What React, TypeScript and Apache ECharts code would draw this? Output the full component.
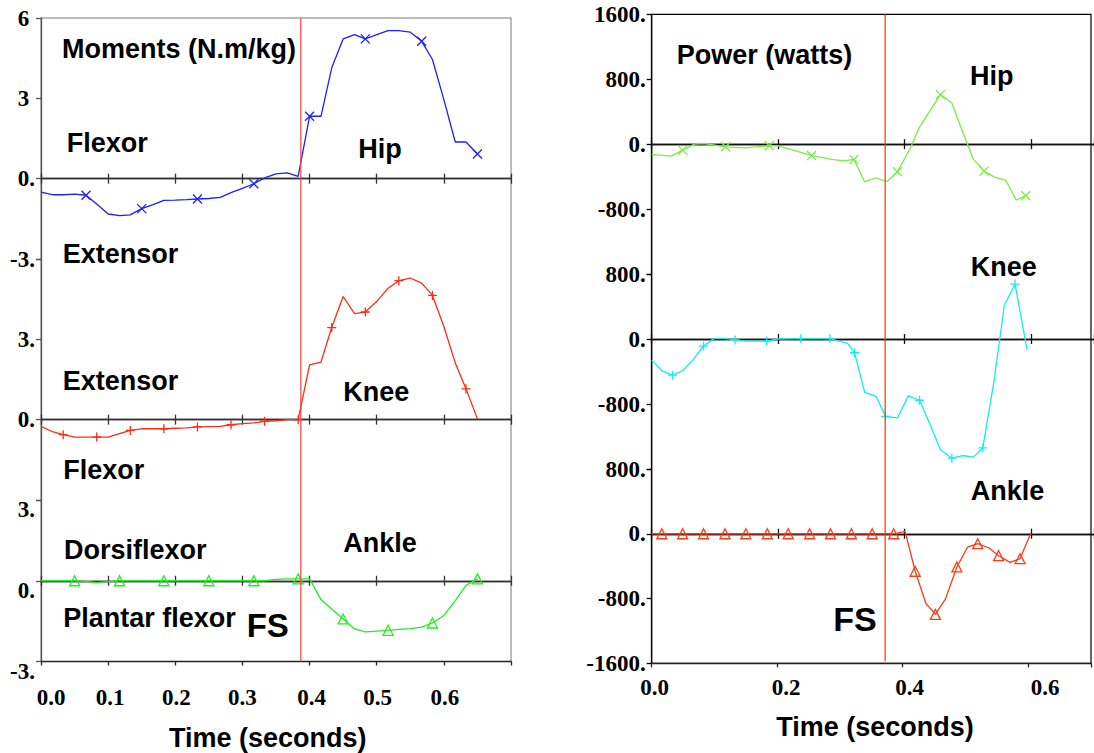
import React, { useEffect, useRef } from 'react';
import * as echarts from 'echarts';

// ---------- data: left panel (moments, N.m/kg) ----------
const LEFT_T = [0.000, 0.017, 0.033, 0.050, 0.067, 0.083, 0.100, 0.117, 0.133, 0.150,
  0.167, 0.183, 0.200, 0.217, 0.233, 0.250, 0.267, 0.283, 0.300, 0.317,
  0.333, 0.350, 0.367, 0.383, 0.400, 0.417, 0.433, 0.450, 0.467, 0.483,
  0.500, 0.517, 0.533, 0.550, 0.567, 0.583, 0.600, 0.617, 0.633, 0.650];
const HIP_MOMENT = [-0.50, -0.60, -0.60, -0.58, -0.62, -0.95, -1.32, -1.38, -1.35, -1.12,
  -0.97, -0.81, -0.80, -0.78, -0.76, -0.74, -0.70, -0.52, -0.36, -0.19,
  0.03, 0.18, 0.22, 0.09, 2.33, 2.33, 4.14, 5.22, 5.38, 5.22,
  5.38, 5.53, 5.53, 5.47, 5.13, 4.45, 2.95, 1.37, 1.37, 0.92];
const HIP_MOMENT_MARKS = [4, 9, 14, 19, 24, 29, 34, 39];
const KNEE_MOMENT = [-0.25, -0.45, -0.56, -0.65, -0.65, -0.65, -0.65, -0.52, -0.40, -0.34,
  -0.34, -0.34, -0.32, -0.31, -0.27, -0.26, -0.25, -0.19, -0.15, -0.12,
  -0.06, -0.04, 0.00, 0.00, 2.05, 2.15, 3.44, 4.60, 3.96, 4.02,
  4.41, 4.91, 5.19, 5.29, 5.10, 4.64, 3.48, 2.12, 1.15, 0.03];
const KNEE_MOMENT_MARKS = [2, 5, 8, 11, 14, 17, 20, 23, 26, 29, 32, 35, 38];
const ANKLE_MOMENT = [0.00, 0.00, 0.00, 0.00, -0.02, -0.07, -0.03, 0.00, 0.00, 0.00,
  0.00, 0.00, 0.00, 0.00, 0.00, 0.00, 0.00, 0.00, 0.00, 0.00,
  0.00, 0.05, 0.07, 0.07, 0.07, -0.70, -1.05, -1.42, -1.79, -1.90,
  -1.87, -1.84, -1.81, -1.78, -1.72, -1.57, -1.29, -0.74, -0.17, 0.07];
const ANKLE_MOMENT_MARKS = [3, 7, 11, 15, 19, 23, 27, 31, 35, 39];
const FS_LEFT = 0.387;

// ---------- data: right panel (power, watts) ----------
const HIP_POWER_T = [0.000, 0.031, 0.049, 0.068, 0.083, 0.117, 0.148, 0.186, 0.200, 0.253,
  0.284, 0.305, 0.320, 0.337, 0.355, 0.372, 0.389, 0.409, 0.424, 0.441,
  0.457, 0.475, 0.492, 0.509, 0.526, 0.543, 0.560, 0.577, 0.592];
const HIP_POWER = [-127, -147, -74, 0, 8, -33, -45, -20, -20, -139,
  -188, -205, -188, -463, -414, -463, -340, -53, 213, 418,
  610, 508, 152, -184, -332, -410, -442, -688, -635];
const HIP_POWER_MARKS = [2, 5, 7, 9, 12, 16, 20, 24, 28];
const KNEE_POWER_T = [0.000, 0.017, 0.033, 0.049, 0.065, 0.082, 0.099, 0.115, 0.132, 0.148,
  0.182, 0.199, 0.236, 0.282, 0.310, 0.321, 0.337, 0.355, 0.370, 0.389,
  0.406, 0.424, 0.440, 0.457, 0.475, 0.492, 0.509, 0.524, 0.542, 0.558,
  0.575, 0.594];
const KNEE_POWER = [-260, -396, -445, -391, -260, -87, 8, 8, -12, -25,
  -25, 0, 4, 4, -54, -169, -655, -705, -952, -972,
  -700, -754, -1042, -1364, -1467, -1434, -1454, -1339, -507, 412,
  676, -128];
const KNEE_POWER_MARKS = [2, 5, 8, 10, 12, 13, 15, 18, 21, 24, 27, 30];
const ANKLE_POWER_T = [0.000, 0.016, 0.049, 0.082, 0.116, 0.149, 0.183, 0.216, 0.250, 0.283,
  0.316, 0.349, 0.383, 0.401, 0.417, 0.434, 0.449, 0.465, 0.483, 0.500,
  0.516, 0.534, 0.549, 0.567, 0.583, 0.600];
const ANKLE_POWER = [0, 0, 0, 0, 0, 0, 0, 0, 0, 0,
  0, 0, 0, 29, -463, -861, -996, -804, -410, -164,
  -123, -176, -271, -353, -308, 10];
const ANKLE_POWER_MARKS = [1, 2, 3, 4, 5, 6, 7, 8, 9, 10, 11, 12, 14, 16, 18, 20, 22, 24];
const FS_RIGHT = 0.372;

// ---------- tick labels ----------
const LEFT_X_LABELS = ['0.0', '0.1', '0.2', '0.3', '0.4', '0.5', '0.6', ''];
const RIGHT_X_LABELS = ['0.0', '0.2', '0.4', '0.6'];
const HIP_M_Y_LABELS = ['-3.', '0.', '3{h|.}', '6{h|.}'];
const KNEE_M_Y_LABELS = ['', '0.', '3.', ''];
const ANKLE_M_Y_LABELS = ['-3.', '0.', '3.'];
const HIP_P_Y_LABELS = ['', '-800.', '0.', '800.', '1600.'];
const KNEE_P_Y_LABELS = ['', '-800.', '0.', '800.'];
const ANKLE_P_Y_LABELS = ['-1600.', '-800.', '0.', '800.'];

// label nudges (style only: horizontal shift of each x label, px)
const LEFT_X_SHIFT = [10, 2, 1, 0, 2, 1, 1, 0];
const RIGHT_X_SHIFT = [3, 9, 7, 17];

const SERIF = 'Liberation Serif, Times New Roman, serif';
const SANS = 'Liberation Sans, Arial, sans-serif';

const SYM_X = 'path://M0,0L10,10M10,0L0,10';
const SYM_PLUS = 'path://M5,0L5,10M0,5L10,5';
const SYM_TRI = 'path://M5,0L10,9L0,9Z';

function pts(t: number[], v: number[], marks: number[], sym: string) {
  return t.map((x, i) => ({ value: [x, v[i]], symbol: marks.includes(i) ? sym : 'none' }));
}

function zeroAxis(grid: number, yIdx: number, max: number, interval: number, pos: string, color: string) {
  return {
    type: 'value', gridIndex: grid, min: 0, max, interval, position: pos,
    axisLine: { show: true, onZero: true, onZeroAxisIndex: yIdx, lineStyle: { color, width: 1.3 } },
    axisTick: { show: true, length: 5, lineStyle: { color, width: 1.3 } },
    axisLabel: { show: false }, splitLine: { show: false },
  };
}

function frameX(grid: number, interval: number, labels: string[], shifts: number[], margin: number) {
  const base = { fontFamily: SERIF, fontWeight: 'bold', fontSize: 23, color: '#000' };
  const rich: any = {};
  shifts.forEach((s, i) => { rich['p' + i] = { ...base, padding: [0, 0, 0, 2 * s] }; });
  return {
    type: 'value', gridIndex: grid, min: 0, max: 0.7, interval, position: 'bottom',
    axisLine: { show: true, onZero: false, lineStyle: { color: '#222', width: 1.3 } },
    axisTick: { show: true, length: 4, lineStyle: { color: '#222', width: 1.3 } },
    axisLabel: {
      formatter: (_v: number, i: number) => (labels[i] ? `{p${i}|${labels[i]}}` : ''),
      ...base, margin, rich,
    },
    splitLine: { show: false },
  };
}

function yAx(grid: number, min: number, max: number, interval: number, labels: string[], color: string, extra: any = {}) {
  const base = { fontFamily: SERIF, fontWeight: 'bold', fontSize: 23, color: '#000' };
  return {
    type: 'value', gridIndex: grid, min, max, interval, position: 'left',
    axisLine: { show: true, onZero: false, lineStyle: { color, width: 1.3 } },
    axisTick: { show: true, length: 5, lineStyle: { color, width: 1.3 } },
    axisLabel: {
      formatter: (_v: number, i: number) => labels[i] ?? '',
      ...base, margin: 6,
      rich: { h: { ...base, color: 'transparent' } },
      ...extra,
    },
    splitLine: { show: false },
  };
}

function curve(xi: number, yi: number, data: any[], color: string, size = 9) {
  return {
    type: 'line', xAxisIndex: xi, yAxisIndex: yi, data, silent: true,
    showSymbol: true, showAllSymbol: true, symbolSize: size, z: 3,
    lineStyle: { color, width: 1.3 },
    itemStyle: { color: 'transparent', borderColor: color, borderWidth: 1.3 },
  };
}

function txt(text: string, x: number, y: number, size: number, align = 'left') {
  return {
    type: 'text', x, y, z: 10, silent: true,
    style: { text, fontFamily: SANS, fontWeight: 'bold', fontSize: size, fill: '#000', align, verticalAlign: 'middle' },
  };
}

export default function App() {
  const ref = useRef<HTMLDivElement>(null);
  useEffect(() => {
    if (!ref.current) return;
    const chart = echarts.init(ref.current, null, { renderer: 'svg' });
    const option: any = {
      animation: false,
      backgroundColor: '#fff',
      grid: [
        { left: 41, top: 18, width: 470, height: 643.5, show: true, borderColor: '#777', borderWidth: 1 },
        { left: 41, top: 18, width: 470, height: 241 },
        { left: 41, top: 259, width: 470, height: 241 },
        { left: 41, top: 500, width: 470, height: 161.5 },
        { left: 651.7, top: 14.3, width: 448, height: 649, show: true, borderColor: '#000', borderWidth: 1.2 },
        { left: 651.7, top: 14.3, width: 448, height: 259.7 },
        { left: 651.7, top: 274, width: 448, height: 195 },
        { left: 651.7, top: 469, width: 448, height: 194.3 },
      ],
      xAxis: [
        frameX(0, 0.1, LEFT_X_LABELS, LEFT_X_SHIFT, 24),
        zeroAxis(1, 1, 0.7, 0.1, 'bottom', '#333'),
        zeroAxis(1, 1, 0.7, 0.1, 'top', '#333'),
        zeroAxis(2, 2, 0.7, 0.1, 'bottom', '#333'),
        zeroAxis(2, 2, 0.7, 0.1, 'top', '#333'),
        zeroAxis(3, 3, 0.7, 0.1, 'bottom', '#333'),
        zeroAxis(3, 3, 0.7, 0.1, 'top', '#333'),
        frameX(4, 0.2, RIGHT_X_LABELS, RIGHT_X_SHIFT, 13),
        zeroAxis(5, 5, 0.7, 0.2, 'bottom', '#111'),
        zeroAxis(5, 5, 0.7, 0.2, 'top', '#111'),
        zeroAxis(6, 6, 0.7, 0.2, 'bottom', '#111'),
        zeroAxis(6, 6, 0.7, 0.2, 'top', '#111'),
        zeroAxis(7, 7, 0.7, 0.2, 'bottom', '#111'),
        zeroAxis(7, 7, 0.7, 0.2, 'top', '#111'),
      ],
      yAxis: [
        { type: 'value', gridIndex: 0, min: 0, max: 1, show: false },
        yAx(1, -3, 6, 3, HIP_M_Y_LABELS, '#555'),
        yAx(2, -3, 6, 3, KNEE_M_Y_LABELS, '#555'),
        yAx(3, -3, 3, 3, ANKLE_M_Y_LABELS, '#555', { verticalAlign: 'top', padding: [-2, 0, 0, 0] }),
        { type: 'value', gridIndex: 4, min: 0, max: 1, show: false },
        yAx(5, -1600, 1600, 800, HIP_P_Y_LABELS, '#000'),
        yAx(6, -1600, 800, 800, KNEE_P_Y_LABELS, '#000'),
        yAx(7, -1600, 800, 800, ANKLE_P_Y_LABELS, '#000'),
      ],
      series: [
        {
          type: 'line', xAxisIndex: 0, yAxisIndex: 0, data: [[FS_LEFT, 0], [FS_LEFT, 1]],
          symbol: 'none', silent: true, z: 4, lineStyle: { color: '#ff3b3b', width: 1.2 },
        },
        {
          type: 'line', xAxisIndex: 7, yAxisIndex: 4, data: [[FS_RIGHT, 0.003], [FS_RIGHT, 1]],
          symbol: 'none', silent: true, z: 4, lineStyle: { color: '#ff3300', width: 1.2 },
        },
        curve(1, 1, pts(LEFT_T, HIP_MOMENT, HIP_MOMENT_MARKS, SYM_X), '#1e1eff'),
        curve(3, 2, pts(LEFT_T, KNEE_MOMENT, KNEE_MOMENT_MARKS, SYM_PLUS), '#ff2a10'),
        curve(5, 3, pts(LEFT_T, ANKLE_MOMENT, ANKLE_MOMENT_MARKS, SYM_TRI), '#22ee22', 10),
        curve(8, 5, pts(HIP_POWER_T, HIP_POWER, HIP_POWER_MARKS, SYM_X), '#77ee44'),
        curve(10, 6, pts(KNEE_POWER_T, KNEE_POWER, KNEE_POWER_MARKS, SYM_PLUS), '#11eeee'),
        curve(12, 7, pts(ANKLE_POWER_T, ANKLE_POWER, ANKLE_POWER_MARKS, SYM_TRI), '#ff3a14', 10),
      ],
      graphic: [
        txt('Moments (N.m/kg)', 62, 49, 27),
        txt('Flexor', 66.7, 143, 27),
        txt('Hip', 358.3, 149, 27),
        txt('Extensor', 62.7, 254, 27),
        txt('Extensor', 62.7, 381, 27),
        txt('Knee', 343.3, 392, 27),
        txt('Flexor', 63.3, 470, 27),
        txt('Dorsiflexor', 64, 550, 27),
        txt('Ankle', 343.3, 543, 27),
        txt('Plantar flexor', 63.3, 617.5, 27),
        txt('FS', 246.7, 625, 33),
        txt('Time (seconds)', 267.7, 738, 27, 'center'),
        txt('Power (watts)', 676.7, 55, 27),
        txt('Hip', 970, 76, 27),
        txt('Knee', 970.7, 267, 27),
        txt('Ankle', 970.7, 491, 27),
        txt('FS', 833.3, 619, 34),
        txt('Time (seconds)', 875, 727, 27, 'center'),
      ],
    };
    chart.setOption(option);
    return () => chart.dispose();
  }, []);
  return <div ref={ref} style={{ position: 'absolute', left: 0, top: 0, width: 1094, height: 753 }} />;
}
